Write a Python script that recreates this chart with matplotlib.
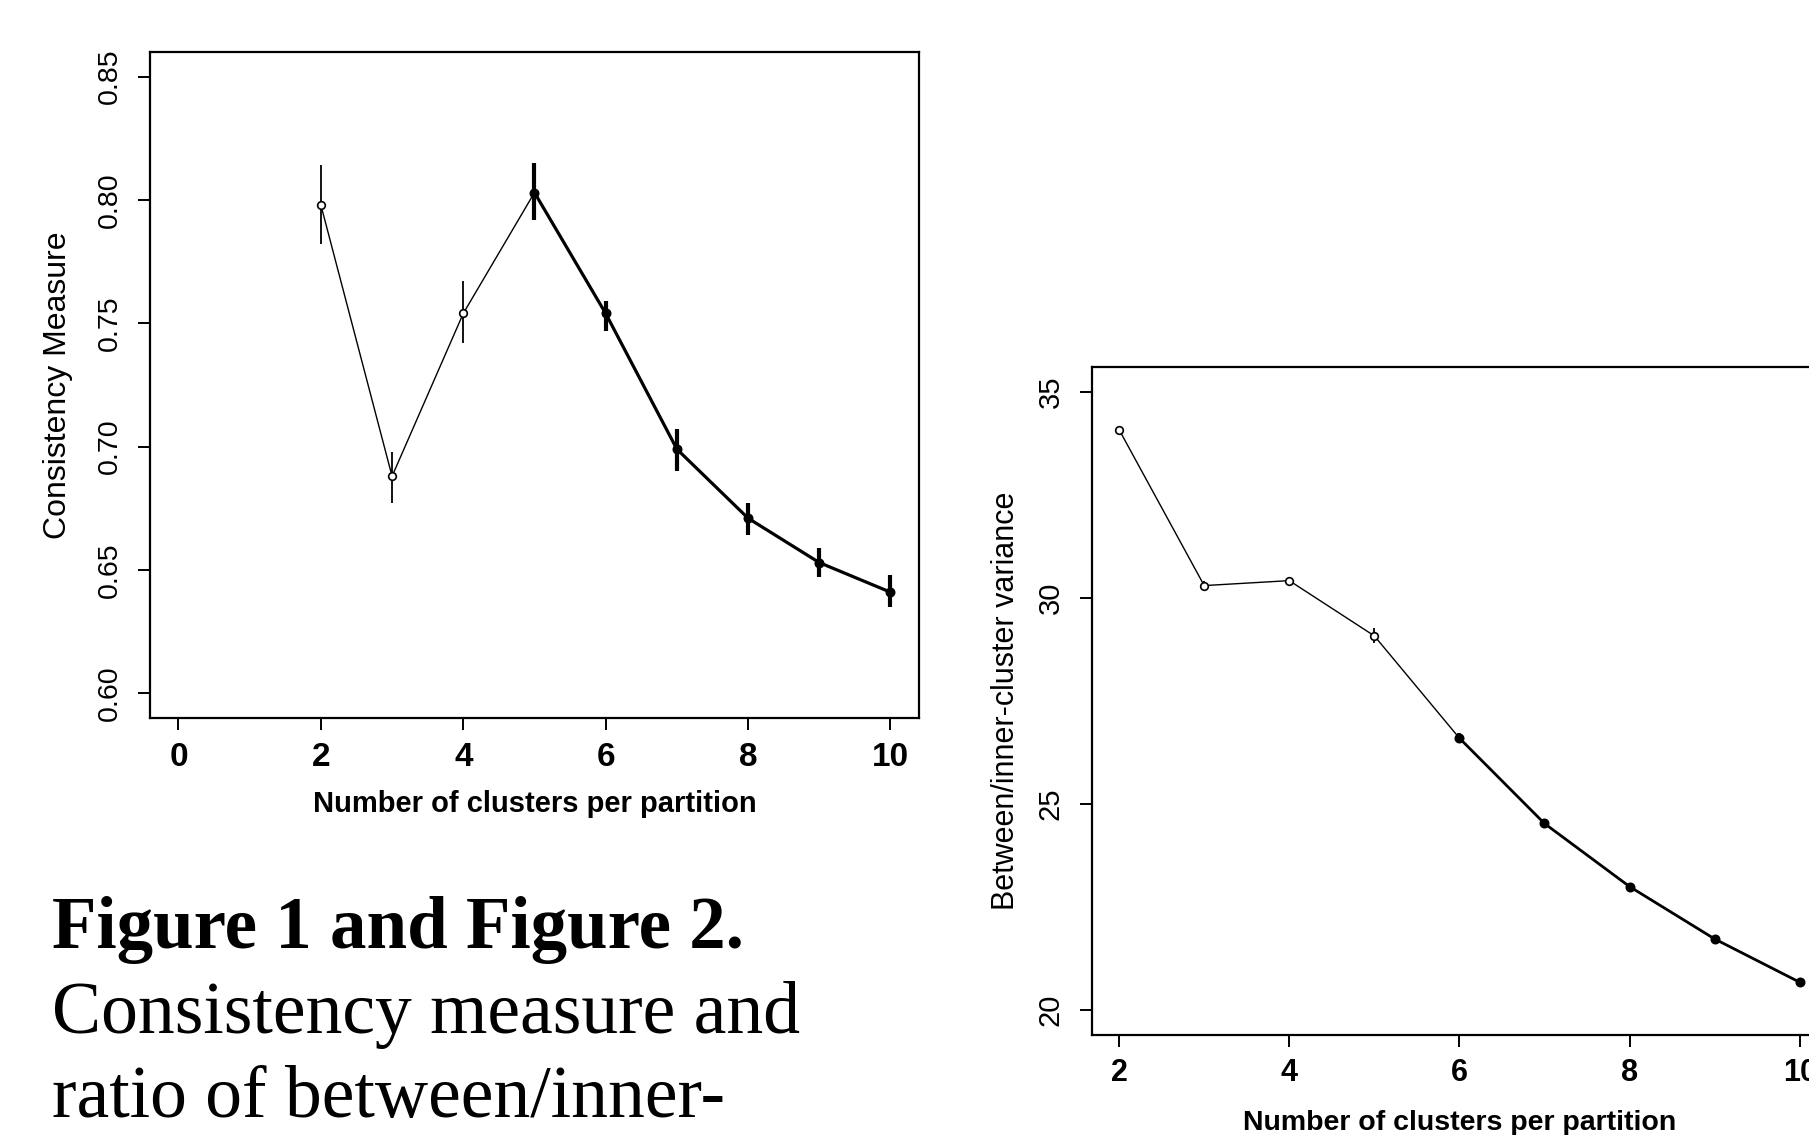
import matplotlib
matplotlib.use("Agg")
import matplotlib.pyplot as plt
import numpy as np

# ---- data ----
clusters = [2, 3, 4, 5, 6, 7, 8, 9, 10]
consistency = [0.798, 0.688, 0.754, 0.803, 0.754, 0.699, 0.671, 0.653, 0.641]
consistency_lo = [0.782, 0.677, 0.742, 0.792, 0.747, 0.690, 0.664, 0.647, 0.635]
consistency_hi = [0.814, 0.698, 0.767, 0.815, 0.759, 0.707, 0.677, 0.659, 0.648]
consistency_heavy_from = 5

ratio = [34.08, 30.30, 30.42, 29.08, 26.60, 24.53, 23.00, 21.73, 20.68]
ratio_lo = [33.98, 30.20, 30.32, 28.90, 26.48, 24.47, 22.95, 21.69, 20.64]
ratio_hi = [34.18, 30.40, 30.52, 29.26, 26.72, 24.59, 23.05, 21.77, 20.72]
ratio_heavy_from = 6

left_xticks = [0, 2, 4, 6, 8, 10]
left_yticks = [0.60, 0.65, 0.70, 0.75, 0.80, 0.85]
right_xticks = [2, 4, 6, 8, 10]
right_yticks = [20, 25, 30, 35]

xlabel = "Number of clusters per partition"
left_ylabel = "Consistency Measure"
right_ylabel = "Between/inner-cluster variance"
caption_bold = "Figure 1 and Figure 2."
caption_lines = ["Consistency measure and", "ratio of between/inner-"]

plt.rcParams['font.family'] = ['Liberation Sans', 'DejaVu Sans']

fig = plt.figure(figsize=(18.09, 11.35), dpi=100)
fig.patch.set_facecolor('white')


def draw_panel(ax, x, y, lo, hi, heavy_from, thin_lw, heavy_lw):
    x = np.asarray(x, float)
    y = np.asarray(y, float)
    lo = np.asarray(lo, float)
    hi = np.asarray(hi, float)
    heavy = x >= heavy_from
    light = ~heavy
    ax.plot(x, y, color='black', lw=thin_lw, zorder=2)
    ax.plot(x[heavy], y[heavy], color='black', lw=heavy_lw, zorder=3)
    ax.vlines(x[light], lo[light], hi[light], color='black', lw=thin_lw * 1.3, zorder=3)
    ax.vlines(x[heavy], lo[heavy], hi[heavy], color='black', lw=heavy_lw * 1.3, zorder=3)
    ax.plot(x[light], y[light], 'o', ms=5.5, mfc='white', mec='black', mew=1.2, zorder=4)
    ax.plot(x[heavy], y[heavy], 'o', ms=6.0, mfc='black', mec='black', mew=1.2, zorder=4)


def style_axes(ax, xt, yt, xfs, yfs, xpad, ypad):
    for s in ax.spines.values():
        s.set_linewidth(1.6)
        s.set_color('black')
    ax.set_xticks(xt)
    ax.set_yticks(yt)
    ax.tick_params(axis='both', direction='out', length=8.5, width=1.4, color='black')
    ax.tick_params(axis='x', labelsize=xfs, pad=xpad)
    ax.tick_params(axis='y', labelsize=yfs, pad=ypad)


def finish_ticklabels(ax):
    for lab in ax.get_xticklabels():
        lab.set_fontweight('bold')
    for lab in ax.get_yticklabels():
        lab.set_rotation(90)
        lab.set_va('center')


# ---- left panel ----
axL = fig.add_axes([0.0829, 0.3674, 0.4251, 0.5868])
draw_panel(axL, clusters, consistency, consistency_lo, consistency_hi,
           consistency_heavy_from, 1.0, 2.3)
axL.set_xlim(-0.4, 10.4)
axL.set_ylim(0.59, 0.86)
style_axes(axL, left_xticks, left_yticks, 24, 20.5, 9, 11)
axL.set_yticklabels([f"{v:.2f}" for v in left_yticks])
finish_ticklabels(axL)
axL.set_xlabel(xlabel, fontsize=21, fontweight='bold')
axL.xaxis.set_label_coords(0.5, -0.129)
axL.xaxis.label.set_va('center')
axL.set_ylabel(left_ylabel, fontsize=23)
axL.yaxis.set_label_coords(-0.1196, 0.5)
axL.yaxis.label.set_va('center')

# ---- right panel ----
axR = fig.add_axes([0.6036, 0.0881, 0.4063, 0.5885])
draw_panel(axR, clusters, ratio, ratio_lo, ratio_hi, ratio_heavy_from, 1.0, 2.0)
axR.set_xlim(1.68, 10.32)
axR.set_ylim(19.4, 35.6)
style_axes(axR, right_xticks, right_yticks, 22, 21, 8, 11)
finish_ticklabels(axR)
axR.set_xlabel(xlabel, fontsize=20.5, fontweight='bold')
axR.xaxis.set_label_coords(0.5, -0.131)
axR.xaxis.label.set_va('center')
axR.set_ylabel(right_ylabel, fontsize=22)
axR.yaxis.set_label_coords(-0.117, 0.5)
axR.yaxis.label.set_va('center')

# ---- caption ----
fig.text(52 / 1809, 1 - 948 / 1135, caption_bold, fontsize=52.5, fontweight='bold',
         family=['Liberation Serif', 'DejaVu Serif'], va='baseline', ha='left')
for i, line in enumerate(caption_lines):
    fig.text(52 / 1809, 1 - (1033 + 84 * i) / 1135, line, fontsize=53,
             family=['Liberation Serif', 'DejaVu Serif'], va='baseline', ha='left')

fig.savefig("out.png", dpi=100, facecolor='white')
